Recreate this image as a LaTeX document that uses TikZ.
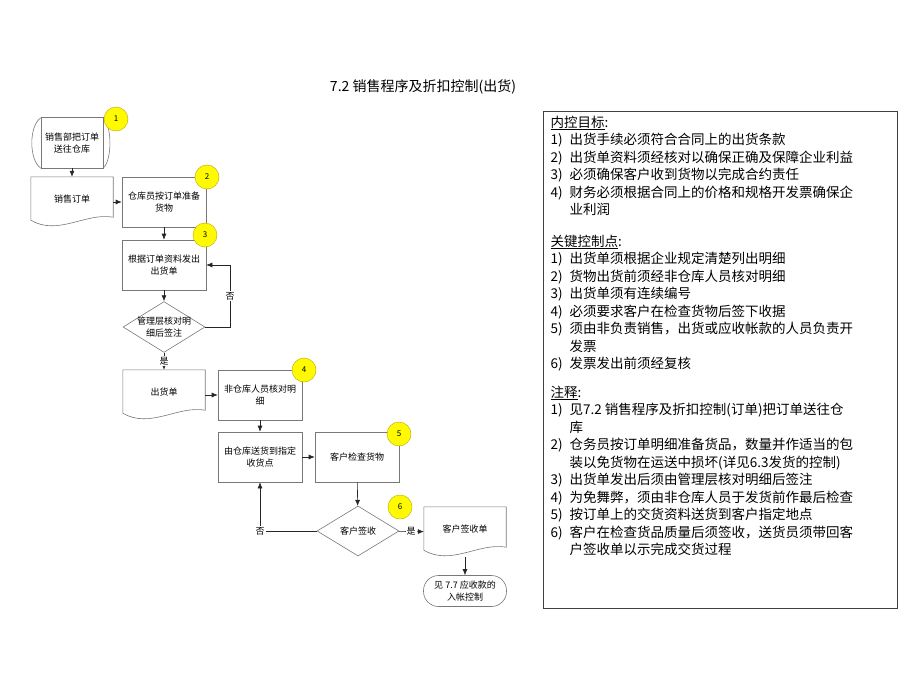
\documentclass[tikz,border=0pt]{standalone}
\usepackage{fontspec}
\setmainfont{Noto Sans CJK SC}
\usetikzlibrary{shapes.geometric,arrows.meta,calc}
\definecolor{myyellow}{RGB}{255,250,0}
\definecolor{myedge}{RGB}{185,165,0}
\definecolor{mygray}{RGB}{120,120,120}

% outline of a document symbol around a node
\newcommand{\docshape}[1]{%
  \draw[boxline] (#1.north west) -- (#1.north east) -- ($(#1.south east)+(0,-10)$)
    .. controls ($(#1.south east)!0.33!(#1.south west)+(0,-15)$)
    and ($(#1.south east)!0.67!(#1.south west)+(0,9)$) .. ($(#1.south west)+(0,-7)$) -- cycle;}
\newcommand{\num}[1]{\makebox[19pt][l]{#1}}

\begin{document}
\begin{tikzpicture}[x=1pt,y=-1pt,
    every node/.style={font=\fontsize{9}{12.5}\selectfont},
    boxline/.style={draw=mygray,line width=0.6pt},
    box/.style={boxline,rectangle,minimum width=84pt,minimum height=50pt,align=center,inner sep=1pt},
    store/.style={rectangle,minimum width=62pt,minimum height=50pt,align=center,inner sep=1pt},
    doc/.style={rectangle,minimum width=82pt,minimum height=50pt,align=center,inner sep=1pt},
    decision/.style={boxline,diamond,minimum width=82pt,minimum height=50pt,inner sep=-6pt,align=center},
    term/.style={boxline,rounded corners=15pt,minimum width=83pt,minimum height=31pt,align=center,inner sep=1pt},
    marker/.style={circle,draw=myedge,fill=myyellow,minimum size=24pt,inner sep=0pt,font=\fontsize{8}{8}\selectfont},
    yesno/.style={fill=white,inner sep=1pt},
    note/.style={anchor=north west,align=left,inner sep=0pt,font=\fontsize{13.5}{17.5}\selectfont},
    flow/.style={draw=black!85,line width=0.6pt,-{Latex[length=6pt,width=5pt]}}
  ]
  \useasboundingbox (0,0) rectangle (920,690);

  % the title
  \node[font=\fontsize{14}{14}\selectfont] (title) at (423,87) {7.2 销售程序及折扣控制(出货)};

  % the flow steps
  \node[store] (send) at (72,143) {销售部把订单\\送往仓库};
  \node[doc] (order) at (72,202) {\raisebox{7pt}{销售订单}};
  \node[box] (prep) at (164,202) {仓库员按订单准备\\货物};
  \node[box] (issue) at (164,265) {根据订单资料发出\\出货单};
  \node[decision] (check) at (164,327) {管理层核对明\\细后签注};
  \node[doc] (ship) at (164,395) {\raisebox{6pt}{出货单}};
  \node[box] (verify) at (260,395) {非仓库人员核对明\\细};
  \node[box] (deliver) at (260,457) {由仓库送货到指定\\收货点};
  \node[box] (inspect) at (357,457) {客户检查货物};
  \node[decision] (sign) at (358,531) {客户签收};
  \node[doc] (receipt) at (465,532) {\raisebox{7pt}{客户签收单}};
  \node[term] (ar) at (465,591) {见 7.7 应收款的\\入帐控制};

  % the outlines that are not plain boxes
  \draw[boxline] (send.north west) rectangle (send.south east);
  \draw[boxline] (send.north east) .. controls +(9,8) and +(9,-8) .. (send.south east);
  \draw[boxline] (send.south west) .. controls +(-12,-8) and +(-12,8) .. (send.north west);
  \docshape{order}
  \docshape{ship}
  \docshape{receipt}

  % the edges
  \foreach \a/\b in {send/order,order/prep,prep/issue,issue/check,ship/verify,
                     verify/deliver,deliver/inspect,inspect/sign,receipt/ar}
    \draw[flow] (\a) -- (\b);
  \coordinate (back) at (230,327);
  \draw[flow] (check.east) -- (back) |- node[yesno,pos=0.25] {否} (issue.east);
  \draw[flow] (check) -- node[yesno] {是} (ship);
  \draw[flow] (sign.west) -| node[yesno,pos=0.5] {否} (deliver.south);
  \draw[flow] (sign) -- node[yesno] {是} (receipt);

  % the numbered markers
  \foreach \n/\x/\y in {1/116/119,2/207/177,3/205/235,4/304/370,5/399/434,6/400/507}
    \node[marker] (m\n) at (\x,\y) {\n};

  % the notes on the right
  \node[draw=black!75,line width=1pt,minimum width=354pt,minimum height=496pt] (panel) at (720,360) {};
  \node[note] (goals) at ($(panel.north west)+(8,4)$) {\underline{内控目标}:\\
    \num{1)}出货手续必须符合合同上的出货条款\\
    \num{2)}出货单资料须经核对以确保正确及保障企业利益\\
    \num{3)}必须确保客户收到货物以完成合约责任\\
    \num{4)}财务必须根据合同上的价格和规格开发票确保企\\
    \num{}业利润};
  \node[note] (keys) at ($(panel.north west)+(8,123)$) {\underline{关键控制点}:\\
    \num{1)}出货单须根据企业规定清楚列出明细\\
    \num{2)}货物出货前须经非仓库人员核对明细\\
    \num{3)}出货单须有连续编号\\
    \num{4)}必须要求客户在检查货物后签下收据\\
    \num{5)}须由非负责销售，出货或应收帐款的人员负责开\\
    \num{}发票\\
    \num{6)}发票发出前须经复核};
  \node[note] (remarks) at ($(panel.north west)+(8,274)$) {\underline{注释}:\\
    \num{1)}见7.2 销售程序及折扣控制(订单)把订单送往仓\\
    \num{}库\\
    \num{2)}仓务员按订单明细准备货品，数量并作适当的包\\
    \num{}装以免货物在运送中损坏(详见6.3发货的控制)\\
    \num{3)}出货单发出后须由管理层核对明细后签注\\
    \num{4)}为免舞弊，须由非仓库人员于发货前作最后检查\\
    \num{5)}按订单上的交货资料送货到客户指定地点\\
    \num{6)}客户在检查货品质量后须签收，送货员须带回客\\
    \num{}户签收单以示完成交货过程};
\end{tikzpicture}
\end{document}
